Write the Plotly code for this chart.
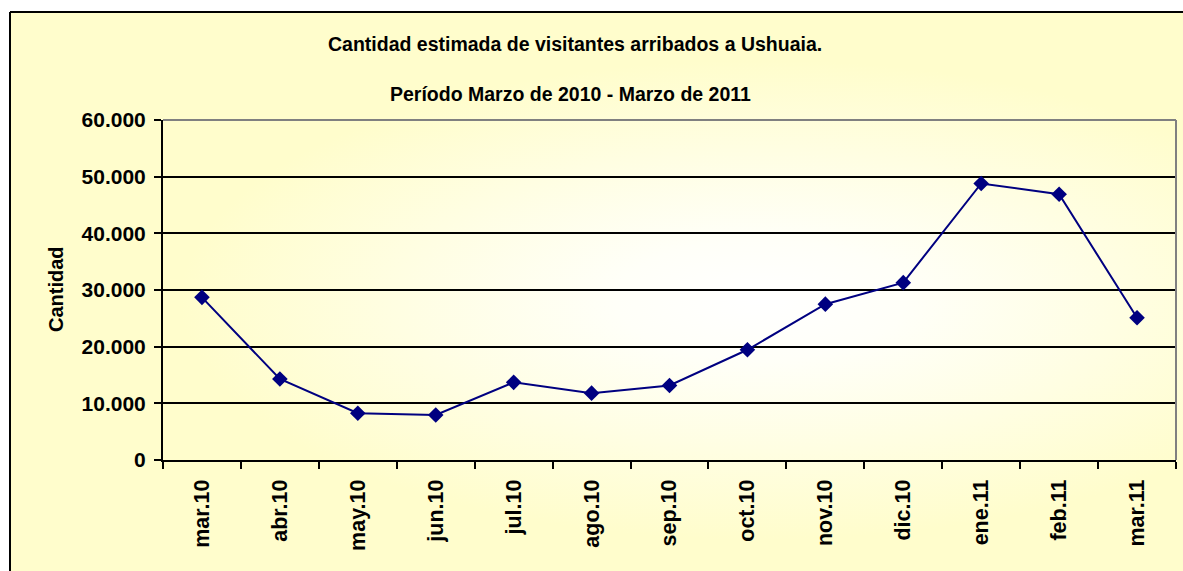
import base64
import plotly.graph_objects as go

categories = ["mar.10", "abr.10", "may.10", "jun.10", "jul.10", "ago.10", "sep.10",
              "oct.10", "nov.10", "dic.10", "ene.11", "feb.11", "mar.11"]
visitantes = [28700, 14300, 8250, 7950, 13700, 11800, 13150,
              19450, 27500, 31300, 48800, 46900, 25100]
y_ticks = [0, 10000, 20000, 30000, 40000, 50000, 60000]

title_1 = "Cantidad estimada de visitantes arribados a Ushuaia."
title_2 = "Período Marzo de 2010 - Marzo de 2011"
y_title = "Cantidad"

W, H = 1183, 571
PLOT_L, PLOT_R, PLOT_T, PLOT_B = 163, 1176, 120, 460  # page pixels
ML, MT, MR, MB = PLOT_L, PLOT_T, W - PLOT_R, H - PLOT_B
PW = PLOT_R - PLOT_L
PH = PLOT_B - PLOT_T


def px_x(p):
    return (p - PLOT_L) / PW


def px_y(p):
    return (PLOT_B - p) / PH


# gradient background (chart area fill), page pixels
fx0, fy0, fx1, fy1 = 10, 12, 1230, 620
gw, gh = fx1 - fx0, fy1 - fy0
cx, cy = 760 - fx0, 300 - fy0
svg = f'''<svg xmlns="http://www.w3.org/2000/svg" width="{gw}" height="{gh}" viewBox="0 0 {gw} {gh}" preserveAspectRatio="none">
<defs><radialGradient id="g" gradientUnits="userSpaceOnUse" cx="{cx}" cy="{cy}" r="1"
gradientTransform="translate({cx} {cy}) scale(580 240) translate({-cx} {-cy})">
<stop offset="0" stop-color="#FFFFFF"/><stop offset="0.25" stop-color="#FFFFF8"/>
<stop offset="1" stop-color="#FFFDCC"/></radialGradient></defs>
<rect x="0" y="0" width="{gw}" height="{gh}" fill="#FFFDCC"/>
<rect x="0" y="0" width="{gw}" height="{gh}" fill="url(#g)"/></svg>'''
src = "data:image/svg+xml;base64," + base64.b64encode(svg.encode()).decode()

font_family = "Liberation Sans, Arial, sans-serif"

fig = go.Figure()
fig.add_trace(go.Scatter(
    x=categories, y=visitantes, mode="lines+markers",
    line=dict(color="#000080", width=2),
    marker=dict(symbol="diamond", size=12, color="#000080"),
    showlegend=False, hoverinfo="x+y"))

fig.update_layout(
    width=W, height=H,
    margin=dict(l=ML, r=MR, t=MT, b=MB, autoexpand=False),
    paper_bgcolor="white", plot_bgcolor="rgba(0,0,0,0)",
    separators=",.",
    font=dict(family=font_family, color="black"),
    images=[dict(source=src, xref="paper", yref="paper",
                 x=px_x(fx0), y=px_y(fy0), sizex=px_x(fx1) - px_x(fx0),
                 sizey=px_y(fy0) - px_y(fy1), sizing="stretch",
                 xanchor="left", yanchor="top", layer="below")],
    shapes=[
        dict(type="line", xref="paper", yref="paper",
             x0=px_x(fx0), y0=px_y(fy0), x1=px_x(fx1), y1=px_y(fy0),
             line=dict(color="black", width=2), layer="above"),
        dict(type="line", xref="paper", yref="paper",
             x0=px_x(fx0), y0=px_y(fy0), x1=px_x(fx0), y1=px_y(fy1),
             line=dict(color="black", width=2), layer="above"),
        dict(type="line", xref="paper", yref="paper", x0=0, y0=1, x1=1, y1=1,
             line=dict(color="#808080", width=2), layer="above"),
        dict(type="line", xref="paper", yref="paper", x0=1, y0=1, x1=1, y1=0,
             line=dict(color="#808080", width=2), layer="above"),
    ],
    annotations=[
        dict(text=title_1, xref="paper", yref="paper", x=px_x(575), y=px_y(44),
             showarrow=False, xanchor="center", yanchor="middle",
             font=dict(size=19.5, weight="bold", family=font_family)),
        dict(text=title_2, xref="paper", yref="paper", x=px_x(570), y=px_y(94),
             showarrow=False, xanchor="center", yanchor="middle",
             font=dict(size=19.5, weight="bold", family=font_family)),
        dict(text=y_title, xref="paper", yref="paper", x=px_x(56), y=px_y(289),
             showarrow=False, xanchor="center", yanchor="middle", textangle=-90,
             font=dict(size=20, weight="bold", family=font_family)),
    ],
    xaxis=dict(type="category", range=[-0.5, len(categories) - 0.5],
               tickson="boundaries", ticks="outside", ticklen=7, tickwidth=2,
               tickcolor="black", showline=True, linecolor="black", linewidth=2,
               showgrid=False, tickangle=-90, ticklabelstandoff=9,
               tickfont=dict(size=21.5, weight="bold", family=font_family)),
    yaxis=dict(range=[0, 60000], tickvals=y_ticks, tickformat=",d",
               ticks="outside", ticklen=7, tickwidth=2, tickcolor="black",
               showline=True, linecolor="black", linewidth=2, ticklabelstandoff=4,
               showgrid=True, gridcolor="black", gridwidth=1.5, zeroline=False,
               tickfont=dict(size=21, weight="bold", family=font_family)),
)

fig.write_html(
    "out.html",
    config={"displayModeBar": False},
    post_script="document.body.style.margin='0';"
                "document.body.style.background='white';"
                "document.documentElement.style.overflow='hidden';")
